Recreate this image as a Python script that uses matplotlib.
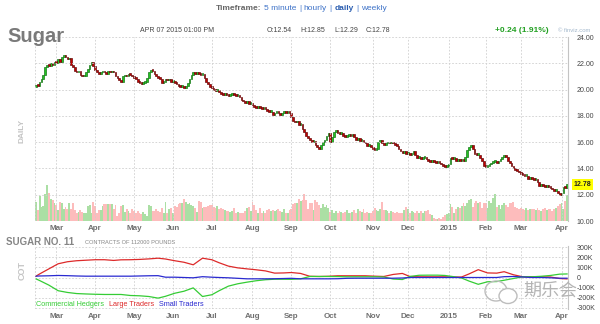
import numpy as np
import pandas as pd
import matplotlib
matplotlib.use('Agg')
import matplotlib.pyplot as plt
from matplotlib.patches import Ellipse

plt.rcParams['font.family'] = ['Liberation Sans', 'DejaVu Sans']

# exchange holidays inside the window
holidays = ['2014-02-17', '2014-04-18', '2014-05-26', '2014-07-04', '2014-09-01',
            '2014-11-27', '2014-12-25', '2015-01-01', '2015-01-19', '2015-02-16',
            '2015-04-03']

# daily closes, one row per month (Feb 2014 .. Apr 2015)
closes_by_month = [
    [20.35, 20.3, 20.6, 20.8, 21.1, 21.7, 21.9, 21.8, 22.0, 21.9, 22.1],
    [22.0, 22.3, 22.1, 22.5, 22.6, 22.5, 22.3, 22.4, 21.9, 21.7, 21.4, 21.3, 21.4, 21.1, 21.0, 21.0, 21.3, 21.6, 21.9, 22.1, 21.8],
    [21.5, 21.3, 21.2, 21.3, 21.4, 21.3, 21.2, 21.4, 21.3, 21.4, 21.3, 21.0, 20.9, 20.7, 20.6, 21.0, 21.1, 21.0, 21.2, 21.1, 21.0],
    [20.9, 20.8, 20.6, 20.5, 20.4, 20.5, 20.6, 20.9, 21.3, 21.5, 21.4, 21.2, 21.0, 20.9, 20.8, 20.5, 20.6, 20.8, 20.7, 20.8, 20.6],
    [20.6, 20.5, 20.4, 20.3, 20.2, 20.2, 20.1, 20.3, 20.5, 20.8, 21.1, 21.3, 21.2, 21.3, 21.2, 21.1, 21.2, 20.9, 20.6, 20.4, 20.2],
    [20.1, 20.0, 19.9, 20.0, 19.8, 19.7, 19.6, 19.7, 19.6, 19.5, 19.6, 19.7, 19.6, 19.5, 19.6, 19.4, 19.2, 19.1, 19.0, 19.1, 18.9, 19.0],
    [18.8, 18.7, 18.6, 18.7, 18.6, 18.5, 18.6, 18.5, 18.4, 18.3, 18.3, 18.1, 18.2, 18.3, 18.2, 18.1, 18.2, 18.3, 18.2, 18.3, 18.2],
    [17.9, 17.6, 17.5, 17.6, 17.3, 17.4, 17.0, 16.8, 16.5, 16.3, 16.2, 16.0, 16.1, 15.8, 15.6, 15.5, 15.8, 16.0, 16.2, 16.5, 16.7],
    [16.0, 16.4, 16.8, 16.9, 16.7, 16.6, 16.7, 16.5, 16.4, 16.5, 16.6, 16.5, 16.6, 16.4, 16.2, 16.3, 16.1, 16.2, 16.0, 15.9, 15.7, 15.8, 15.6],
    [15.5, 15.4, 15.5, 16.0, 16.2, 15.9, 15.8, 15.9, 16.0, 15.9, 16.0, 15.9, 15.8, 15.7, 15.5, 15.3, 15.2, 15.3, 15.1],
    [15.1, 15.0, 15.1, 15.3, 15.0, 14.8, 14.9, 14.7, 14.8, 14.9, 14.7, 14.6, 14.5, 14.6, 14.5, 14.4, 14.5, 14.4, 14.3, 14.2, 14.1, 14.2],
    [14.3, 14.8, 14.7, 14.8, 14.6, 14.7, 14.6, 14.7, 14.6, 14.9, 15.4, 15.6, 15.8, 15.5, 15.1, 15.0, 15.0, 14.8, 14.6, 14.2],
    [14.1, 14.2, 14.3, 14.4, 14.5, 14.5, 14.4, 14.6, 14.7, 14.9, 15.0, 14.9, 14.6, 14.4, 14.2, 14.0, 13.9, 13.8, 13.7],
    [13.6, 13.5, 13.4, 13.4, 13.2, 13.3, 13.2, 13.1, 13.2, 13.0, 12.7, 12.8, 12.7, 12.6, 12.7, 12.6, 12.5, 12.4, 12.3, 12.3, 12.1, 11.95],
    [12.15, 12.6, 12.54, 12.78],
]
first_open = 20.2

# daily volume (thousand lots), same month rows
volume_by_month = [
    [19, 11, 25, 14, 15, 27, 36, 28, 22, 21, 18],
    [16, 11, 19, 18, 12, 14, 12, 18, 12, 18, 11, 8, 9, 11, 9, 8, 8, 15, 16, 8, 19],
    [15, 8, 11, 11, 15, 17, 17, 17, 17, 17, 12, 16, 5, 8, 15, 16, 9, 12, 10, 8, 12],
    [10, 8, 10, 8, 7, 9, 7, 5, 16, 15, 10, 10, 12, 10, 9, 13, 8, 19, 8, 12, 13],
    [8, 15, 14, 17, 18, 18, 22, 19, 17, 18, 16, 15, 13, 9, 20, 19, 13, 14, 14, 15, 16],
    [16, 14, 13, 15, 12, 13, 12, 11, 10, 10, 9, 10, 13, 8, 9, 8, 8, 8, 10, 13, 14, 10],
    [19, 16, 11, 8, 13, 8, 10, 8, 11, 12, 10, 11, 10, 11, 12, 10, 9, 12, 8, 8, 11],
    [12, 17, 18, 18, 22, 20, 21, 27, 21, 12, 18, 18, 11, 21, 19, 16, 13, 17, 14, 16, 13],
    [9, 11, 8, 10, 8, 10, 9, 8, 9, 11, 8, 8, 9, 11, 8, 12, 10, 9, 12, 8, 9, 8, 8],
    [10, 13, 11, 10, 12, 19, 11, 11, 10, 8, 10, 9, 8, 9, 8, 8, 8, 11, 14],
    [12, 8, 10, 9, 8, 10, 8, 10, 8, 10, 10, 11, 7, 6, 3, 2, 2, 3, 2, 4, 6, 7],
    [8, 17, 14, 8, 12, 14, 13, 15, 18, 15, 18, 21, 22, 14, 18, 20, 18, 19, 13, 18],
    [18, 13, 20, 18, 23, 27, 14, 16, 12, 16, 18, 16, 14, 18, 18, 19, 14, 13, 12],
    [13, 12, 11, 13, 11, 12, 12, 12, 11, 13, 11, 10, 12, 13, 11, 12, 12, 10, 12, 13, 15, 17],
    [18, 12, 20, 26],
]

# weekly COT net positions (thousand contracts)
cot_dates = ['2014-02-11', '2014-02-18', '2014-02-25', '2014-03-04', '2014-03-11', '2014-03-18',
             '2014-03-25', '2014-04-01', '2014-04-08', '2014-04-15', '2014-04-22', '2014-04-29',
             '2014-05-06', '2014-05-13', '2014-05-20', '2014-05-27', '2014-06-03', '2014-06-10',
             '2014-06-17', '2014-06-24', '2014-07-01', '2014-07-08', '2014-07-15', '2014-07-22',
             '2014-07-29', '2014-08-05', '2014-08-12', '2014-08-19', '2014-08-26', '2014-09-02',
             '2014-09-09', '2014-09-16', '2014-09-23', '2014-09-30', '2014-10-07', '2014-10-14',
             '2014-10-21', '2014-10-28', '2014-11-04', '2014-11-11', '2014-11-18', '2014-11-25',
             '2014-12-02', '2014-12-09', '2014-12-16', '2014-12-23', '2014-12-30', '2015-01-06',
             '2015-01-13', '2015-01-20', '2015-01-27', '2015-02-03', '2015-02-10', '2015-02-17',
             '2015-02-24', '2015-03-03', '2015-03-10', '2015-03-17', '2015-03-24', '2015-03-31',
             '2015-04-07']
cot_commercial = [-13, -30, -75, -130, -147, -158, -162, -165, -167, -167, -167, -177,
                  -180, -187, -203, -185, -155, -135, -102, -187, -170, -130, -85, -62,
                  -46, -32, -22, -17, -17, -18, -13, 10, 10, 10, 9, 7,
                  7, 7, 7, 5, -15, -20, 10, 22, 23, 23, 20, 10,
                  -5, -35, -67, -42, -40, -27, -10, 7, 7, 12, 20, 33,
                  35]
cot_large = [13, 35, 85, 135, 155, 165, 170, 175, 175, 168, 174, 175,
             178, 183, 190, 182, 165, 150, 125, 190, 175, 145, 112, 95,
             85, 76, 65, 43, 45, 49, 40, 12, 10, 12, 17, 17,
             17, 17, 13, 10, 30, 40, 10, 7, 7, 7, 7, 5,
             5, 35, 77, 45, 43, 57, 27, 7, 7, 7, 5, -10,
             -14]
cot_small = [13, 15, 17, 20, 18, 15, 13, 13, 13, 13, 13, 13,
             15, 17, 18, 3, 3, 0, -3, 8, 3, 0, -3, -8,
             -13, -13, -13, -12, -10, -8, -13, -13, -13, -13, -12, -8,
             -7, -7, -7, -7, -7, -5, 0, 0, 0, 0, 0, 0,
             0, 0, 0, 0, 0, 8, 10, 5, 0, 0, -3, -7,
             -7]

# trading calendar
days = pd.bdate_range('2014-02-13', '2015-04-07')
days = days[~days.isin(pd.to_datetime(holidays))]

closes = np.array(sum(closes_by_month, []))
vols = np.array(sum(volume_by_month, []))
n = min(len(days), len(closes), len(vols))
days, closes, vols = days[:n], closes[:n], vols[:n]
opens = np.r_[first_open, closes[:-1]]
x = np.arange(n)
up = closes >= opens

# month ticks
month_idx = [i for i in range(1, n) if days[i].month != days[i - 1].month]
month_lbl = ['2015' if days[i].month == 1 else days[i].strftime('%b') for i in month_idx]

grid_kw = dict(color='#cfcfcf', linestyle=(0, (2, 2)), linewidth=0.6)

fig = plt.figure(figsize=(6, 3.24), dpi=100)
fig.patch.set_facecolor('white')

# price panel
ax = fig.add_axes([35 / 600, 1 - 221 / 324, 533 / 600, 184 / 324])
axv = ax.twinx()
axv.bar(x, vols, width=1.0, color=np.where(up, '#abdfa4', '#fdbcbc'), linewidth=0)
axv.set_ylim(0, 184)
axv.set_yticks([])
for s in axv.spines.values():
    s.set_visible(False)
ax.set_zorder(axv.get_zorder() + 1)
ax.patch.set_visible(False)

lo = np.minimum(opens, closes)
hgt = np.maximum(np.abs(closes - opens), 0.14)
ax.bar(x[up], hgt[up], bottom=lo[up], width=0.9, color='#22c322', edgecolor='#0c6a0c', linewidth=0.45)
ax.bar(x[~up], hgt[~up], bottom=lo[~up], width=0.9, color='#c40000', edgecolor='#5c0000', linewidth=0.45)

ax.set_xlim(-0.5, n - 0.5)
ax.set_ylim(10, 24)
ax.yaxis.tick_right()
ax.set_yticks(np.arange(10, 25, 2))
ax.set_yticklabels(['%.2f' % v for v in np.arange(10, 25, 2)])
ax.set_xticks(month_idx)
ax.set_xticklabels(month_lbl)
ax.grid(True, **grid_kw)
ax.axvline(-0.5, **grid_kw)
ax.tick_params(axis='y', length=0, pad=6, labelsize=5, labelcolor='#444444')
ax.tick_params(axis='x', length=0, pad=3, labelsize=5.8, labelcolor='#707070')
for t in ax.get_xticklabels():
    t.set_fontweight('bold')
for k, s in ax.spines.items():
    s.set_visible(k == 'right')
ax.spines['right'].set_color('#c4c4c4')
ax.spines['right'].set_linewidth(0.8)

ax.annotate('%.2f' % closes[-1], xy=(1, closes[-1]), xycoords=ax.get_yaxis_transform(),
            xytext=(4, 0), textcoords='offset points', ha='left', va='center',
            fontsize=5, fontweight='bold', color='#222222',
            bbox=dict(boxstyle='square,pad=0.25', fc='#ffff00', ec='none'))

# COT panel
axc = fig.add_axes([35 / 600, 1 - 309 / 324, 533 / 600, 63 / 324])
cot_x = days.searchsorted(pd.to_datetime(cot_dates))
cot_x = np.clip(cot_x, 0, n - 1)
axc.plot(cot_x, cot_large, color='#dd2a2a', linewidth=0.9)
axc.plot(cot_x, cot_commercial, color='#35cc35', linewidth=0.9)
axc.plot(cot_x, cot_small, color='#2a2ad0', linewidth=0.9)
axc.set_xlim(-0.5, n - 0.5)
axc.set_ylim(-310, 310)
axc.yaxis.tick_right()
cot_ticks = [300, 200, 100, 0, -100, -200, -300]
axc.set_yticks(cot_ticks)
axc.set_yticklabels(['%dK' % v if v != 0 else '0' for v in cot_ticks])
axc.set_xticks(month_idx)
axc.set_xticklabels(month_lbl)
axc.grid(True, **grid_kw)
axc.axvline(-0.5, **grid_kw)
axc.tick_params(axis='y', length=0, pad=6, labelsize=5, labelcolor='#444444')
axc.tick_params(axis='x', length=0, pad=3, labelsize=5.8, labelcolor='#707070')
for t in axc.get_xticklabels():
    t.set_fontweight('bold')
for k, s in axc.spines.items():
    s.set_visible(k == 'right')
axc.spines['right'].set_color('#c4c4c4')
axc.spines['right'].set_linewidth(0.8)

# header: timeframe links, laid out one after another
renderer = fig.canvas.get_renderer()
ty = 1 - 8 / 324
link = '#3f73c8'
pieces = [('Timeframe:', 'bold', '#666666'), ('5 minute', 'normal', link), ('|', 'normal', link),
          ('hourly', 'normal', link), ('|', 'normal', link), ('daily', 'bold', '#2a5db0'),
          ('|', 'normal', link), ('weekly', 'normal', link)]
px = 216
for txt, wt, col in pieces:
    t = fig.text(px / 600, ty, txt, fontsize=6, fontweight=wt, color=col, va='center')
    px = t.get_window_extent(renderer).x1 + 2.6

fig.text(7 / 600, 1 - 36 / 324, 'Sugar', fontsize=14.5, fontweight='bold', color='#7a7a7a', va='center')

iy = 1 - 30 / 324
fig.text(140 / 600, iy, 'APR 07 2015 01:00 PM', fontsize=5, color='#444444', va='center')
fig.text(267 / 600, iy, 'O:12.54', fontsize=5, color='#444444', va='center')
fig.text(300 / 600, iy, 'H:12.85', fontsize=5, color='#444444', va='center')
fig.text(334 / 600, iy, 'L:12.29', fontsize=5, color='#444444', va='center')
fig.text(366 / 600, iy, 'C:12.78', fontsize=5, color='#444444', va='center')
fig.text(495 / 600, iy, '+0.24 (1.91%)', fontsize=6, fontweight='bold', color='#22a022', va='center')
fig.text(558 / 600, iy, '\u00a9 finviz.com', fontsize=4.2, color='#a3b8cc', va='center')

fig.text(22 / 600, 1 - 131 / 324, 'DAILY', rotation=90, fontsize=6, fontweight='bold',
         color='#c4c4c4', ha='center', va='center')
fig.text(22 / 600, 1 - 270 / 324, 'COT', rotation=90, fontsize=6.5, fontweight='bold',
         color='#c4c4c4', ha='center', va='center')
fig.text(6 / 600, 1 - 242 / 324, 'SUGAR NO. 11', fontsize=7, fontweight='bold', color='#858585', va='center')
fig.text(85 / 600, 1 - 242 / 324, 'CONTRACTS OF 112000 POUNDS', fontsize=4.1, color='#858585', va='center')

ly = 1 - 304 / 324
fig.text(36 / 600, ly, 'Commercial Hedgers', fontsize=5.2, color='#35cc35', va='center')
fig.text(109 / 600, ly, 'Large Traders', fontsize=5.2, color='#dd2a2a', va='center')
fig.text(159 / 600, ly, 'Small Traders', fontsize=5.2, color='#2a2ad0', va='center')

# watermark
fig.add_artist(Ellipse((496 / 600, 1 - 291 / 324), 22 / 600, 20 / 324, transform=fig.transFigure,
                       fill=False, ec='#bdbdbd', lw=1.0))
fig.add_artist(Ellipse((508 / 600, 1 - 296 / 324), 18 / 600, 15 / 324, transform=fig.transFigure,
                       fc='white', ec='#bdbdbd', lw=1.0))
fig.text(523 / 600, 1 - 292 / 324, '期乐会', family=['Noto Sans CJK SC', 'DejaVu Sans'],
         fontsize=13, color='#b4b4b4', va='center')

fig.savefig('out.png', dpi=100)
plt.close()
